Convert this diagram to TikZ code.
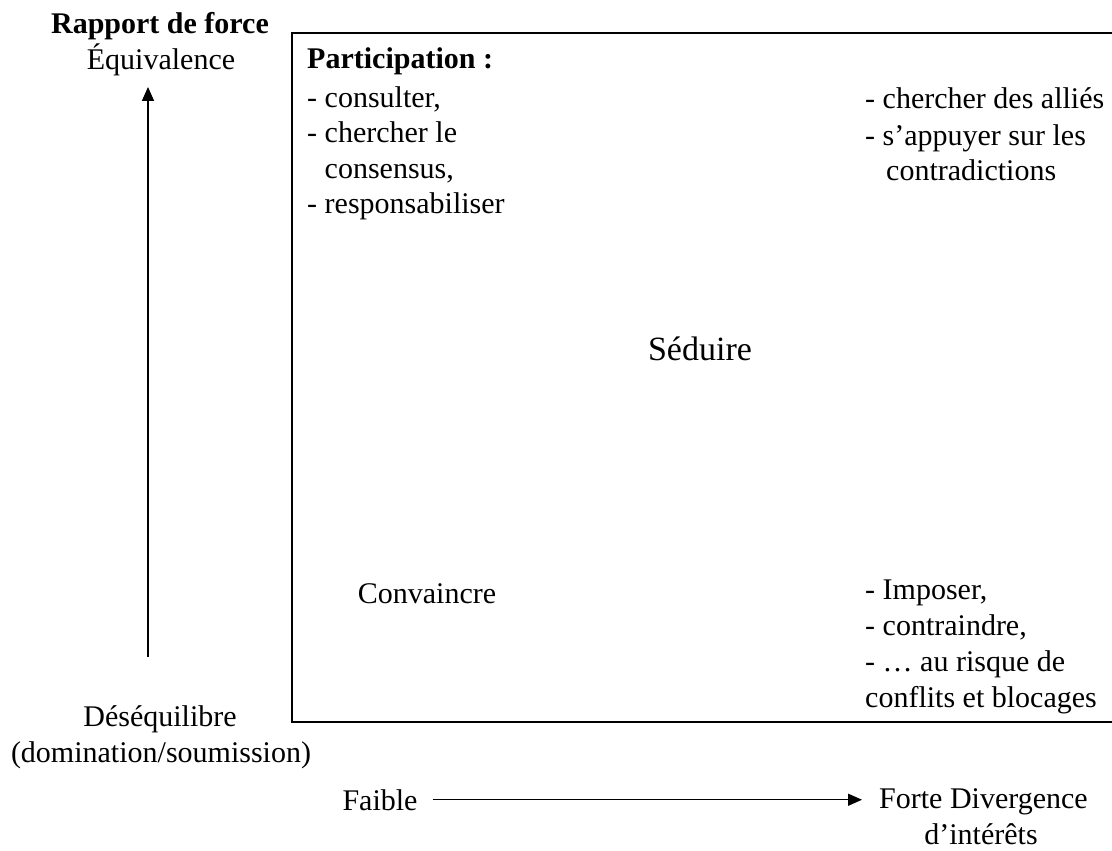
\documentclass[tikz,border=0pt]{standalone}
\usepackage{fontspec}
\setmainfont{Liberation Serif}
\usetikzlibrary{arrows.meta, positioning, calc}

\begin{document}
\begin{tikzpicture}[
  x=1pt, y=-1pt,
  txt/.style={font=\fontsize{30}{36}\selectfont, inner sep=0pt},
  head/.style={txt, font=\fontsize{30}{36}\selectfont\bfseries},
  big/.style={txt, font=\fontsize{34}{40}\selectfont},
  arr/.style={-{Triangle[length=14pt, width=12pt]}, line width=1.5pt},
  quad/.style={line width=2pt},
]
\useasboundingbox (0,0) rectangle (1112,851);

% Vertical axis
\node[head, anchor=base] (rapport) at (160,34) {Rapport de force};
\node[txt, anchor=base] (equiv) at (161,70) {Équivalence};
\node[txt, anchor=base] (deseq) at (160,726) {Déséquilibre};
\node[txt, anchor=base] (domin) at (161,762) {(domination/soumission)};
\coordinate (vlow) at (148,657);
\coordinate (vhigh) at (148,87);
\draw[arr] (vlow) -- (vhigh);

% Horizontal axis
\node[txt, anchor=base] (faible) at (380,810) {Faible};
\node[txt, anchor=base west] (forte) at (879,808) {Forte Divergence};
\node[txt, anchor=base] (interets) at (981,844) {d'intérêts};
\draw[arr, shorten <=15pt, shorten >=17pt] (faible.east) -- (faible.east -| forte.west);

% Quadrant frame (open to the right)
\draw[quad] (1116,33) -- (292,33) -- (292,722) -- (1116,722);

% Top left
\node[head, anchor=base west] (partic) at (307,69) {Participation :};
\foreach \txt [count=\i from 0] in {{- consulter,}, {- chercher le}, {\phantom{- }consensus,}, {- responsabiliser}}
  \node[txt, anchor=base west] (p\i) at (307,107+35.5*\i) {\txt};

% Top right
\node[txt, anchor=base west] (allies) at (865,108) {- chercher des alliés};
\node[txt, anchor=base west] (appui) at (865,146) {- s'appuyer sur les};
\node[txt, anchor=base west] (contra) at (886,180) {contradictions};

% Centre
\node[big, anchor=base] (seduire) at (700,360) {Séduire};
\node[txt, anchor=base] (convaincre) at (427,603) {Convaincre};

% Bottom right
\foreach \txt [count=\i from 0] in {{- Imposer,}, {- contraindre,}, {- … au risque de}, {conflits et blocages}}
  \node[txt, anchor=base west] (b\i) at (865,599+36*\i) {\txt};

\end{tikzpicture}
\end{document}
